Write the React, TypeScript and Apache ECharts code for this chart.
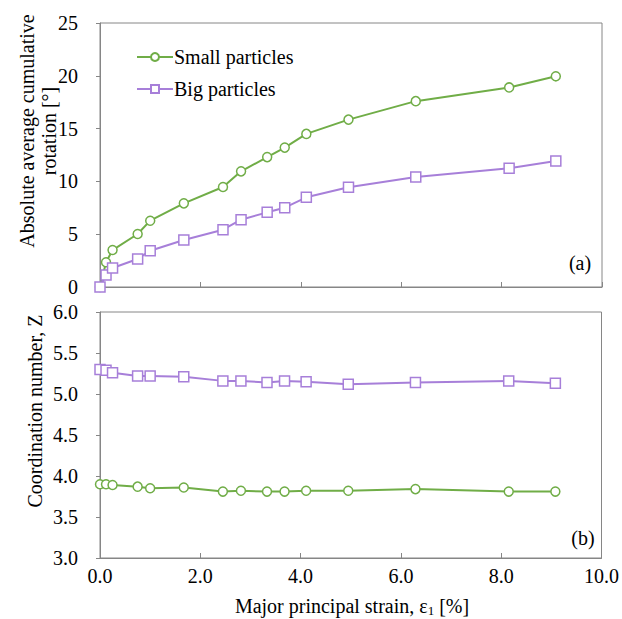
import React, { useEffect, useRef } from "react";
import * as echarts from "echarts";

const strain = [0, 0.12, 0.25, 0.75, 1.0, 1.67, 2.45, 2.81, 3.33, 3.68, 4.11, 4.95, 6.29, 8.15, 9.08];
const rotSmall = [0, 2.34, 3.5, 5.02, 6.28, 7.92, 9.47, 10.95, 12.3, 13.2, 14.5, 15.85, 17.6, 18.9, 19.95];
const rotBig = [0, 1.14, 1.8, 2.65, 3.44, 4.45, 5.43, 6.37, 7.07, 7.51, 8.49, 9.44, 10.42, 11.24, 11.93];
const zSmall = [3.9, 3.9, 3.89, 3.87, 3.85, 3.86, 3.81, 3.82, 3.81, 3.81, 3.82, 3.82, 3.84, 3.81, 3.81];
const zBig = [5.3, 5.29, 5.26, 5.22, 5.22, 5.21, 5.16, 5.16, 5.14, 5.16, 5.15, 5.12, 5.14, 5.16, 5.13];

const GREEN = "#70AD47";
const PURPLE = "#A77FD9";
const AXIS = "#868686";
const FONT = "'Liberation Serif', 'Times New Roman', serif";
const FS = 20;

const pairs = (ys: number[]) => strain.map((x, i) => [x, ys[i]]);

export default function App() {
  const ref = useRef<HTMLDivElement>(null);
  useEffect(() => {
    const chart = echarts.init(ref.current!, null, { renderer: "svg" });
    const axisLine = { show: true, lineStyle: { color: AXIS, width: 1 } };
    const labelStyle = { color: "#000", fontFamily: FONT, fontSize: FS };
    const xBase = {
      type: "value",
      min: 0,
      max: 10,
      interval: 2,
      axisLine,
      axisTick: { show: true, inside: true, length: 5, lineStyle: { color: AXIS } },
      splitLine: { show: false },
    };
    const lineSeries = (name: string, xi: number, data: number[][], color: string, symbol: string, size: number) => ({
      name,
      type: "line",
      xAxisIndex: xi,
      yAxisIndex: xi,
      data,
      symbol,
      symbolSize: size,
      showAllSymbol: true,
      lineStyle: { color, width: 2 },
      itemStyle: { color: "#fff", borderColor: color, borderWidth: 1.5 },
      z: symbol === "rect" ? 3 : 2,
    });
    chart.setOption({
      animation: false,
      backgroundColor: "#fff",
      textStyle: { fontFamily: FONT },
      grid: [
        { left: 100, top: 23, width: 502, height: 264, show: true, borderColor: AXIS, borderWidth: 1, backgroundColor: "transparent" },
        { left: 100, top: 312, width: 502, height: 246, show: true, borderColor: AXIS, borderWidth: 1, backgroundColor: "transparent" },
      ],
      xAxis: [
        { ...xBase, gridIndex: 0, axisLabel: { show: false } },
        {
          ...xBase,
          gridIndex: 1,
          axisLabel: { ...labelStyle, margin: 8, formatter: (v: number) => v.toFixed(1) },
        },
      ],
      yAxis: [
        {
          type: "value",
          gridIndex: 0,
          min: 0,
          max: 25,
          interval: 5,
          axisLine,
          axisTick: { show: true, inside: false, length: 4, lineStyle: { color: AXIS } },
          splitLine: { show: false },
          axisLabel: { ...labelStyle, margin: 22 },
        },
        {
          type: "value",
          gridIndex: 1,
          min: 3,
          max: 6,
          interval: 0.5,
          axisLine,
          axisTick: { show: true, inside: false, length: 4, lineStyle: { color: AXIS } },
          splitLine: { show: false },
          axisLabel: { ...labelStyle, margin: 22, formatter: (v: number) => v.toFixed(1) },
        },
      ],
      legend: {
        left: 131,
        top: 42,
        orient: "vertical",
        itemGap: 12,
        itemWidth: 36,
        itemHeight: 10,
        textStyle: { fontFamily: FONT, fontSize: FS, color: "#000", padding: [0, 0, 0, -4] },
        data: ["Small particles", "Big particles"],
      },
      series: [
        lineSeries("Small particles", 0, pairs(rotSmall), GREEN, "circle", 9),
        lineSeries("Big particles", 0, pairs(rotBig), PURPLE, "rect", 10),
        lineSeries("Small particles", 1, pairs(zSmall), GREEN, "circle", 9),
        lineSeries("Big particles", 1, pairs(zBig), PURPLE, "rect", 10),
      ],
      graphic: [
        {
          type: "text",
          x: 38,
          y: 131,
          rotation: Math.PI / 2,
          style: {
            text: "Absolute average cumulative\nrotation [°]",
            fontFamily: FONT,
            fontSize: FS,
            lineHeight: 22,
            fill: "#000",
            align: "center",
            verticalAlign: "middle",
          },
        },
        {
          type: "text",
          x: 35,
          y: 411,
          rotation: Math.PI / 2,
          style: {
            text: "Coordination number, Z",
            fontFamily: FONT,
            fontSize: FS,
            fill: "#000",
            align: "center",
            verticalAlign: "middle",
          },
        },
        {
          type: "text",
          x: 580,
          y: 263,
          style: { text: "(a)", fontFamily: FONT, fontSize: FS, fill: "#000", align: "center", verticalAlign: "middle" },
        },
        {
          type: "text",
          x: 583,
          y: 538,
          style: { text: "(b)", fontFamily: FONT, fontSize: FS, fill: "#000", align: "center", verticalAlign: "middle" },
        },
        {
          type: "text",
          x: 352,
          y: 606,
          style: {
            text: "Major principal strain, ε{sub|1} [%]",
            fontFamily: FONT,
            fontSize: FS,
            fill: "#000",
            align: "center",
            verticalAlign: "middle",
            rich: { sub: { fontFamily: FONT, fontSize: 13, fill: "#000", padding: [8, 0, 0, 0] } },
          },
        },
      ],
    });
    return () => chart.dispose();
  }, []);
  return <div ref={ref} style={{ width: 622, height: 619, position: "absolute", left: 0, top: 0 }} />;
}
